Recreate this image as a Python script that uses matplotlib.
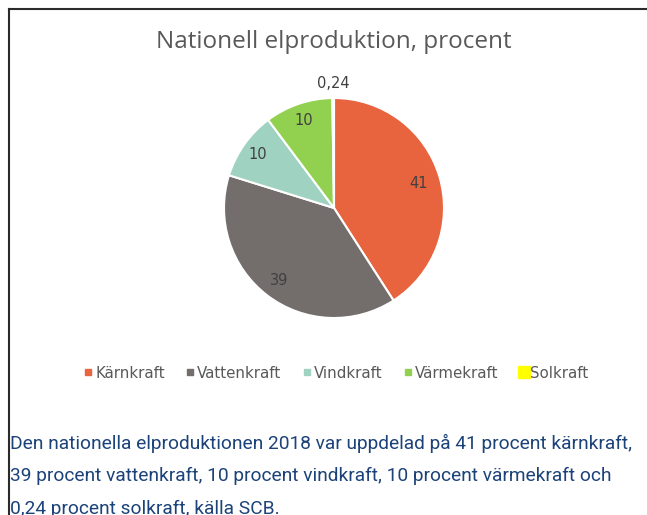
import matplotlib.pyplot as plt
import numpy as np
from matplotlib.lines import Line2D

# Data
categories = ["Kärnkraft", "Vattenkraft", "Vindkraft", "Värmekraft", "Solkraft"]
values = [41, 39, 10, 10, 0.24]
value_labels = ["41", "39", "10", "10", "0,24"]
colors = ["#E8643F", "#736D6C", "#9FD2C1", "#92D050", "#FFFF00"]

title = "Nationell elproduktion, procent"
caption = ["Den nationella elproduktionen 2018 var uppdelad på 41 procent kärnkraft,",
           "39 procent vattenkraft, 10 procent vindkraft, 10 procent värmekraft och",
           "0,24 procent solkraft, källa SCB."]

W, H = 647, 515
fig = plt.figure(figsize=(W / 100, H / 100), dpi=100)
fig.patch.set_facecolor("white")

# pie axes, centre (334, 208), radius 110 px
cx, cy, r = 334, 208, 110
ax = fig.add_axes([(cx - r) / W, 1 - (cy + r) / H, 2 * r / W, 2 * r / H])
wedges, _ = ax.pie(values, colors=colors, startangle=90, counterclock=False,
                   wedgeprops=dict(edgecolor="white", linewidth=1.5))
ax.set_xlim(-1, 1)
ax.set_ylim(-1, 1)
ax.set_aspect("equal")
ax.axis("off")

# data labels
label_dist = [0.80, 0.83, 0.85, 0.84, 1.13]
for w, lab, d in zip(wedges, value_labels, label_dist):
    ang = np.deg2rad((w.theta1 + w.theta2) / 2)
    ax.text(d * np.cos(ang), d * np.sin(ang), lab, ha="center", va="center",
            fontsize=10.5, color="#404040", family="DejaVu Sans", clip_on=False)

# title
fig.text(cx / W, 1 - 42 / H, title, ha="center", va="center", fontsize=17.5,
         color="#595959", family="Open Sans")

# legend
handles = []
for c, lab in zip(colors, categories):
    ms = 9 if lab == "Solkraft" else 5
    handles.append(Line2D([], [], marker="s", linestyle="", markersize=ms,
                          markerfacecolor=c, markeredgecolor=c, label=lab))
leg = fig.legend(handles=handles, loc="center", bbox_to_anchor=(337 / W, 1 - 373 / H),
                 ncol=5, frameon=False, handlelength=0.4, handletextpad=0.25,
                 columnspacing=1.5, prop=dict(family="DejaVu Sans", size=10.8))
for t in leg.get_texts():
    t.set_color("#595959")

# caption
for i, line in enumerate(caption):
    fig.text(10 / W, 1 - (443 + 33 * i) / H, line, ha="left", va="center",
             fontsize=13.8, color="#1B4279", family="Roboto")

# chart border (top and left)
fig.add_artist(Line2D([8.5 / W, 1], [1 - 8.5 / H, 1 - 8.5 / H], color="#2b2b2b", linewidth=1.5))
fig.add_artist(Line2D([8.5 / W, 8.5 / W], [1 - 8.5 / H, 0], color="#2b2b2b", linewidth=1.5))

fig.savefig("out.png", dpi=100)
